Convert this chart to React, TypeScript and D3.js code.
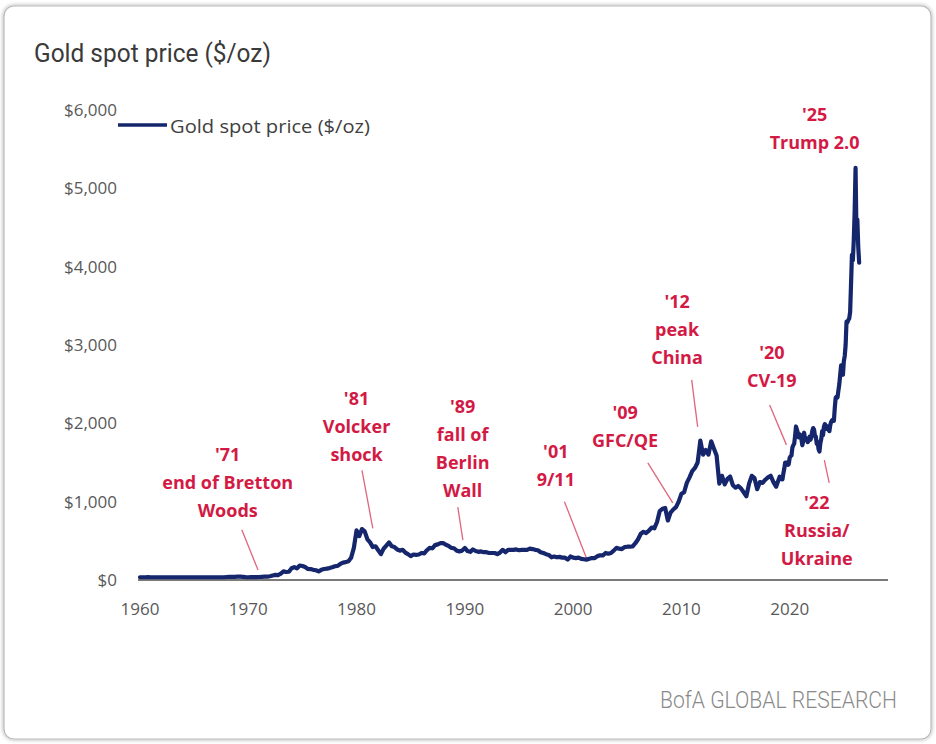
import React from 'react';
import * as d3 from 'd3';

const W = 936;
const H = 744;

// Gold spot price ($/oz), quarterly points (start of quarter)
const q1960s = [
  35, 35, 35, 36, 35, 35, 35, 35, 35, 35, 35, 35, 35, 35, 35, 35, 35, 35, 35, 35,
  35, 35, 35, 35, 35, 35, 35, 35, 35, 35, 35, 35, 38, 41, 39, 39, 42, 43, 41, 36,
];
const q1970s = [
  35, 36, 36, 37, 38, 40, 42, 43, 48, 58, 65, 63, 80, 110, 102, 105, 150, 165, 148, 185,
  178, 165, 142, 140, 130, 125, 110, 130, 140, 145, 152, 162, 175, 180, 205, 222, 228, 240, 285, 410,
];
const q1980s = [
  635, 560, 650, 620, 520, 480, 420, 430, 380, 330, 400, 440, 480, 430, 420, 390, 375, 385, 350, 330,
  305, 325, 320, 325, 345, 340, 380, 410, 405, 445, 455, 470, 470, 450, 435, 410, 405, 375, 365, 375,
];
const q1990s = [
  410, 370, 360, 390, 370, 360, 365, 355, 355, 345, 345, 345, 330, 350, 385, 355, 385, 385, 385, 390,
  380, 385, 385, 385, 400, 395, 385, 380, 355, 345, 330, 320, 290, 300, 290, 295, 285, 285, 260, 300,
];
const q2000s = [
  285, 280, 285, 270, 265, 260, 270, 280, 280, 305, 315, 315, 345, 335, 345, 375, 410, 400, 395, 420,
  425, 425, 430, 470, 520, 590, 615, 600, 630, 670, 660, 740, 880, 910, 920, 760, 860, 900, 930, 1000,
];
const q2010s = [
  1100, 1120, 1240, 1310, 1390, 1430, 1500, 1780, 1600, 1660, 1600, 1770, 1680, 1590, 1230, 1330,
  1220, 1290, 1320, 1210, 1180, 1200, 1170, 1120, 1070, 1230, 1330, 1300, 1160, 1250, 1240, 1280,
  1310, 1330, 1250, 1190,
];
// monthly from Jan 2019
const m2019on = [
  1290, 1320, 1300, 1285, 1285, 1360, 1420, 1500, 1500, 1500, 1470, 1480,
  1560, 1580, 1590, 1690, 1720, 1740, 1840, 1960, 1920, 1880, 1820, 1860,
  1850, 1800, 1720, 1770, 1880, 1800, 1810, 1790, 1760, 1780, 1830, 1790,
  1820, 1900, 1940, 1920, 1840, 1830, 1740, 1760, 1670, 1640, 1750, 1800,
  1900, 1850, 1960, 1990, 1970, 1930, 1960, 1920, 1900, 1980, 2020, 2040,
  2030, 2030, 2200, 2330, 2340, 2330, 2420, 2500, 2620, 2740, 2640, 2620,
  2790, 2860, 3000, 3300, 3290, 3320, 3340, 3420, 3780, 4150, 4080, 4330,
  4700, 5260, 4450, 4600, 4250, 4050,
];

const xTickYears = [1960, 1970, 1980, 1990, 2000, 2010, 2020];
const yTickValues = [0, 1000, 2000, 3000, 4000, 5000, 6000];

type Ann = { lines: string[]; year: number; value: number; from?: [number, number]; to?: [number, number] };
const annotations: Ann[] = [
  { lines: ["'71", 'end of Bretton', 'Woods'], year: 1968.1, value: 1600, from: [1969.4, 640], to: [1970.9, 128] },
  { lines: ["'81", 'Volcker', 'shock'], year: 1980.0, value: 2320, from: [1980.5, 1400], to: [1981.5, 660] },
  { lines: ["'89", 'fall of', 'Berlin', 'Wall'], year: 1989.8, value: 2210, from: [1989.35, 930], to: [1989.82, 510] },
  { lines: ["'01", '9/11'], year: 1998.4, value: 1640, from: [1999.2, 1000], to: [2001.3, 255] },
  { lines: ["'09", 'GFC/QE'], year: 2004.8, value: 2130, from: [2006.9, 1495], to: [2009.2, 985] },
  { lines: ["'12", 'peak', 'China'], year: 2009.6, value: 3550, from: [2010.95, 2555], to: [2011.5, 1955] },
  { lines: ["'20", 'CV-19'], year: 2018.35, value: 2900, from: [2018.15, 2235], to: [2019.7, 1725] },
  { lines: ["'22", 'Russia/', 'Ukraine'], year: 2022.5, value: 985, from: [2023.2, 1530], to: [2023.65, 1240] },
  { lines: ["'25", 'Trump 2.0'], year: 2022.3, value: 5935 },
];

function buildSeries(): [number, number][] {
  const pts: [number, number][] = [];
  const blocks: [number, number[]][] = [
    [1960, q1960s], [1970, q1970s], [1980, q1980s], [1990, q1990s], [2000, q2000s], [2010, q2010s],
  ];
  blocks.forEach(([start, arr]) => arr.forEach((v, i) => pts.push([start + i / 4, v])));
  m2019on.forEach((v, i) => pts.push([2019 + i / 12, v]));
  return pts;
}

const NAVY = '#15266c';
const RED = '#d21a45';
const FONT = "'Open Sans', 'Noto Sans', sans-serif";
const NARROW = "Roboto, 'Open Sans', sans-serif";

export default function App() {
  const data = buildSeries();
  const x = d3.scaleLinear().domain([1960, 2029.08]).range([140, 888]);
  const y = d3.scaleLinear().domain([0, 6000]).range([580, 110]);
  const line = d3.line<[number, number]>().x((d) => x(d[0])).y((d) => y(d[1])).curve(d3.curveLinear);
  const fmt = (v: number) => '$' + d3.format(',')(v);
  const lh = 28;

  return (
    <svg width={W} height={H} style={{ position: 'absolute', left: 0, top: 0, background: '#fff' }} fontFamily={FONT}>
      <defs>
        <filter id="sh" x="-5%" y="-5%" width="110%" height="110%">
          <feDropShadow dx="0" dy="0" stdDeviation="2" floodColor="#000" floodOpacity="0.35" />
        </filter>
      </defs>
      <rect x={0} y={0} width={W} height={H} fill="#fff" />
      <rect x={4} y={6} width={927} height={733} rx={10} fill="#fff" stroke="#b9b9b9" strokeWidth={1.2} filter="url(#sh)" />

      <text x={34} y={62} fontSize={26} fontFamily={NARROW} fill="#3a3a3a" textLength={237} lengthAdjust="spacingAndGlyphs">
        Gold spot price ($/oz)
      </text>

      {/* y tick labels */}
      {yTickValues.map((v) => (
        <text key={v} x={117} y={y(v)} dy="0.35em" textAnchor="end" fontSize={17} fill="#595959">
          {fmt(v)}
        </text>
      ))}
      {/* x tick labels */}
      {xTickYears.map((yr) => (
        <text key={yr} x={x(yr)} y={609} dy="0.35em" textAnchor="middle" fontSize={17} fill="#595959">
          {yr}
        </text>
      ))}

      {/* axis line */}
      <line x1={138} x2={888} y1={y(0)} y2={y(0)} stroke="#7a7a7a" strokeWidth={2} />

      {/* legend */}
      <line x1={118} x2={167} y1={125} y2={125} stroke={NAVY} strokeWidth={3.5} />
      <text x={170} y={126} dy="0.35em" fontSize={19} fill="#404040" textLength={200} lengthAdjust="spacingAndGlyphs">
        Gold spot price ($/oz)
      </text>

      {/* leader lines */}
      {annotations.filter((a) => a.from && a.to).map((a, i) => (
        <line key={'l' + i} x1={x(a.from![0])} y1={y(a.from![1])} x2={x(a.to![0])} y2={y(a.to![1])}
          stroke="#e0657d" strokeWidth={1.3} />
      ))}

      {/* series */}
      <path d={line(data) || ''} fill="none" stroke={NAVY} strokeWidth={4.2} strokeLinejoin="round" strokeLinecap="round" />

      {/* annotation text */}
      {annotations.map((a, i) => (
        <text key={'t' + i} x={x(a.year)} y={y(a.value)} textAnchor="middle" fontSize={18} fontWeight={700} fill={RED}>
          {a.lines.map((s, j) => (
            <tspan key={j} x={x(a.year)} dy={j === 0 ? '0.35em' : lh}>{s}</tspan>
          ))}
        </text>
      ))}

      <text x={660} y={708} fontSize={24} fontFamily={NARROW} fontWeight={300} fill="#8a8a8a" textLength={237} lengthAdjust="spacingAndGlyphs">
        BofA GLOBAL RESEARCH
      </text>
    </svg>
  );
}
